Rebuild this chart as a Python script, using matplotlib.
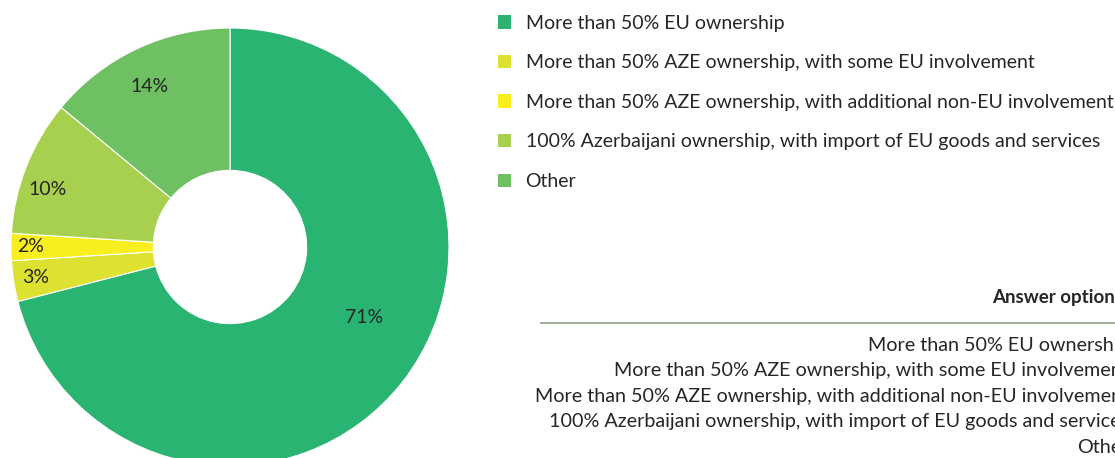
import numpy as np
import matplotlib.pyplot as plt
from matplotlib.lines import Line2D

plt.rcParams['font.family'] = ['Lato', 'DejaVu Sans']

# answer options and their shares (%)
options = ['More than 50% EU ownership',
           'More than 50% AZE ownership, with some EU involvement',
           'More than 50% AZE ownership, with additional non-EU involvement',
           '100% Azerbaijani ownership, with import of EU goods and services',
           'Other']
shares = [71, 3, 2, 10, 14]
colors = ['#29B472', '#DCE22F', '#F9EE1E', '#A8D04F', '#6FBF63']
text_col = '#262626'

W, H = 1115, 458
fig = plt.figure(figsize=(W / 100, H / 100), dpi=100)

# donut, centre at (230, 247) px, radius 219 px
cx, cy, r = 230, 247, 219
ax = fig.add_axes([(cx - r) / W, (H - cy - r) / H, 2 * r / W, 2 * r / H])
wedges, _ = ax.pie(shares, colors=colors, startangle=90, counterclock=False,
                   radius=1, wedgeprops=dict(width=0.65, edgecolor='white', linewidth=0.8))
ax.set_xlim(-1, 1)
ax.set_ylim(-1, 1)
ax.set_aspect('equal')
ax.axis('off')

# percentage labels at the middle of each wedge
label_r = [0.69, 0.90, 0.91, 0.875, 0.82]
label_shift = [10, 0, 0, 4, 1.5]
for w, s, lr, sh in zip(wedges, shares, label_r, label_shift):
    ang = np.deg2rad((w.theta1 + w.theta2) / 2 + sh)
    ax.text(lr * np.cos(ang), lr * np.sin(ang), f'{s}%', ha='center', va='center',
            fontsize=14, color=text_col)

# legend
leg = fig.legend(wedges, options, loc='upper left', bbox_to_anchor=(490 / W, 1 - 7 / H),
                 frameon=False, fontsize=14, handlelength=0.68, handleheight=0.68,
                 handletextpad=0.75, labelspacing=1.16, labelcolor=text_col, borderaxespad=0)
for h in leg.legend_handles:
    h.set_edgecolor('none')

# answer options table (cut off at the right edge)
fig.text(992 / W, 1 - 298 / H, 'Answer options', fontweight='bold', fontsize=13.5,
         color=text_col, ha='left', va='center')
fig.add_artist(Line2D([541 / W, 1.0], [1 - 323 / H, 1 - 323 / H], color='#8E9E88', lw=1.2))
for i, opt in enumerate(options):
    fig.text(1129 / W, 1 - (345 + 25.6 * i) / H, opt, fontsize=14.2, color=text_col,
             ha='right', va='center')

fig.savefig('out.png', dpi=100)
